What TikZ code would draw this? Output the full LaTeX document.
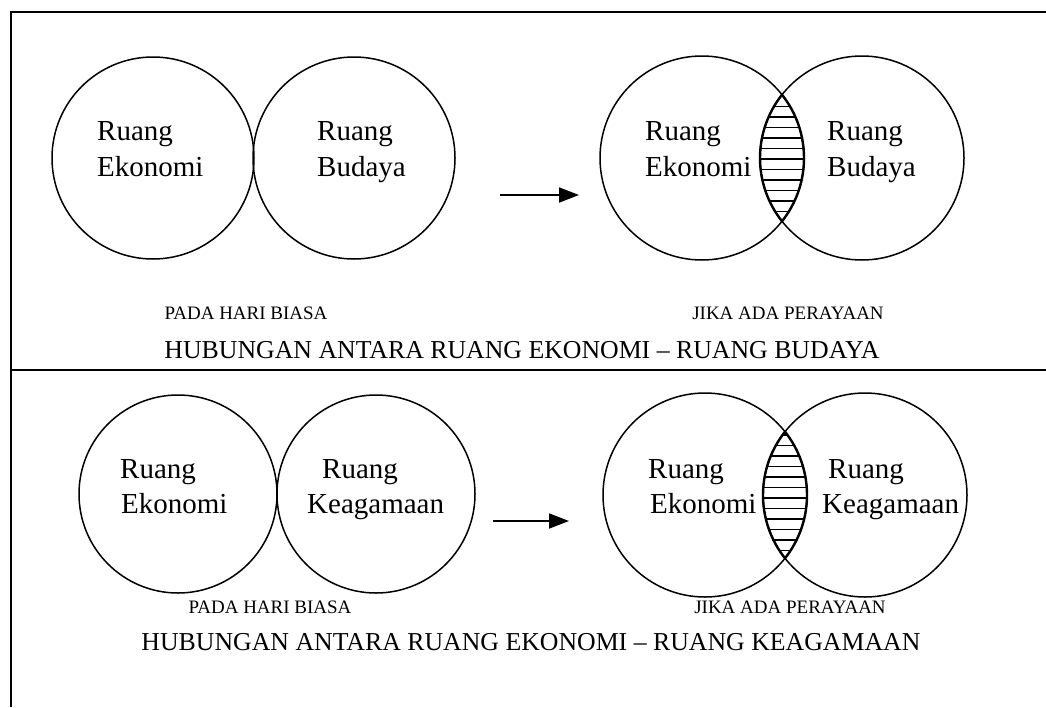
\documentclass[tikz,border=0pt]{standalone}
\usepackage{fontspec}
\setmainfont{Liberation Serif}
\usetikzlibrary{arrows.meta,positioning}

\begin{document}
\begin{tikzpicture}[x=1pt,y=-1pt,
  ruang/.style={circle, draw, line width=1.5pt, minimum size=#1, inner sep=0pt},
  isi/.style={anchor=base west, inner sep=0pt, font=\fontsize{29}{36}\selectfont},
  ket/.style={anchor=base, inner sep=0pt, font=\fontsize{19}{22}\selectfont},
  judul/.style={anchor=base, inner sep=0pt, font=\fontsize{25.8}{30}\selectfont},
  panah/.style={line width=1.8pt, -{Triangle[length=20pt,width=15pt]}},
  arsir/.style={line width=1.2pt},
  tepi/.style={line width=2.5pt}]
\useasboundingbox (0,0) rectangle (1046,707);

% Frame
\draw[tepi] (11,707) -- (11,12) -- (1046,12);
\draw[tepi] (11,370) -- (1046,370);

% ===== Top: ekonomi - budaya =====
\node[ruang=202pt] (eko1) at (153,158) {};
\node[ruang=202pt] (bud1) at (354,158) {};
\node[ruang=204pt] (eko2) at (702,158) {};
\node[ruang=204pt] (bud2) at (862,158) {};

% overlap
\begin{scope}
  \clip (eko2.center) circle (102);
  \clip (bud2.center) circle (102);
  \foreach \k in {0,...,12}
    \draw[arsir] (740,96+10.5*\k) -- (830,96+10.5*\k);
\end{scope}
\begin{scope}
  \clip (eko2.center) circle (102);
  \draw[line width=2.4pt] (bud2.center) circle (102);
\end{scope}
\begin{scope}
  \clip (bud2.center) circle (102);
  \draw[line width=2.4pt] (eko2.center) circle (102);
\end{scope}

\node[isi] (t1a) at (97,140) {Ruang};
\node[isi] (t1b) at (97,176) {Ekonomi};
\node[isi] (t2a) at (317,140) {Ruang};
\node[isi] (t2b) at (317,176) {Budaya};
\node[isi] (t3a) at (645,140) {Ruang};
\node[isi] (t3b) at (645,176) {Ekonomi};
\node[isi] (t4a) at (827,140) {Ruang};
\node[isi] (t4b) at (827,176) {Budaya};

\coordinate (a1) at (500,195);
\coordinate (b1) at (579,195);
\draw[panah] (a1) -- (b1);

\node[ket] (biasa1) at (246,319) {PADA HARI BIASA};
\node[ket] (raya1) at (788,319) {JIKA ADA PERAYAAN};
\node[judul] (hub1) at (522,358) {HUBUNGAN ANTARA RUANG EKONOMI -- RUANG BUDAYA};

% ===== Bottom: ekonomi - keagamaan =====
\node[ruang=198pt] (eko3) at (178,494) {};
\node[ruang=198pt] (aga3) at (376,494) {};
\node[ruang=204pt] (eko4) at (705,495) {};
\node[ruang=204pt] (aga4) at (865,495) {};

% overlap
\begin{scope}
  \clip (eko4.center) circle (102);
  \clip (aga4.center) circle (102);
  \foreach \k in {0,...,12}
    \draw[arsir] (740,435+10.5*\k) -- (835,435+10.5*\k);
\end{scope}
\begin{scope}
  \clip (eko4.center) circle (102);
  \draw[line width=2.4pt] (aga4.center) circle (102);
\end{scope}
\begin{scope}
  \clip (aga4.center) circle (102);
  \draw[line width=2.4pt] (eko4.center) circle (102);
\end{scope}

\node[isi] (t5a) at (120,478) {Ruang};
\node[isi] (t5b) at (121,513) {Ekonomi};
\node[isi] (t6a) at (322,478) {Ruang};
\node[isi] (t6b) at (307,513) {Keagamaan};
\node[isi] (t7a) at (648,478) {Ruang};
\node[isi] (t7b) at (650,513) {Ekonomi};
\node[isi] (t8a) at (828,478) {Ruang};
\node[isi] (t8b) at (822,513) {Keagamaan};

\coordinate (a2) at (493,521);
\coordinate (b2) at (569,521);
\draw[panah] (a2) -- (b2);

\node[ket] (biasa2) at (270,613) {PADA HARI BIASA};
\node[ket] (raya2) at (790,613) {JIKA ADA PERAYAAN};
\node[judul] (hub2) at (531,650) {HUBUNGAN ANTARA RUANG EKONOMI -- RUANG KEAGAMAAN};
\end{tikzpicture}
\end{document}
